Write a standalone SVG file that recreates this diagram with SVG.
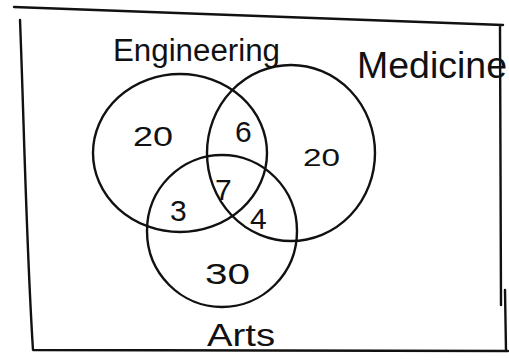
<svg xmlns="http://www.w3.org/2000/svg" width="509" height="363" viewBox="0 0 509 363">
<style>
.ln{fill:none;stroke:#111;stroke-width:2.4;stroke-linecap:round;stroke-linejoin:round}
.t{font-family:"Liberation Sans",Arial,sans-serif;fill:#111}
</style>
<rect width="509" height="363" fill="#fff"/>
<g id="frame">
<path class="ln" d="M14,7 L503,25 M20,20 C24,120 26,240 33,350 L508,351 M500,26 L501,305 M505,290 L506,351"/>
</g>
<g id="connectors"></g>
<g id="engineering">
<ellipse class="ln" cx="180" cy="153" rx="87" ry="79"/>
<text class="t" x="113" y="61" font-size="31" textLength="167" lengthAdjust="spacingAndGlyphs">Engineering</text>
</g>
<g id="medicine">
<ellipse class="ln" cx="291" cy="153" rx="84" ry="88"/>
<text class="t" x="357" y="78" font-size="36" textLength="150" lengthAdjust="spacingAndGlyphs">Medicine</text>
</g>
<g id="arts">
<ellipse class="ln" cx="222" cy="231" rx="75" ry="76"/>
<text class="t" x="207" y="346" font-size="32" textLength="68" lengthAdjust="spacingAndGlyphs">Arts</text>
</g>
<g id="regions">
<text class="t" x="133" y="146" font-size="27" textLength="40" lengthAdjust="spacingAndGlyphs">20</text>
<text class="t" x="235" y="142" font-size="30">6</text>
<text class="t" x="303" y="166" font-size="24" textLength="37" lengthAdjust="spacingAndGlyphs">20</text>
<text class="t" x="170" y="221" font-size="30">3</text>
<text class="t" x="215" y="200" font-size="30">7</text>
<text class="t" x="250" y="229" font-size="30">4</text>
<text class="t" x="205" y="284" font-size="29" textLength="45" lengthAdjust="spacingAndGlyphs">30</text>
</g>
</svg>
